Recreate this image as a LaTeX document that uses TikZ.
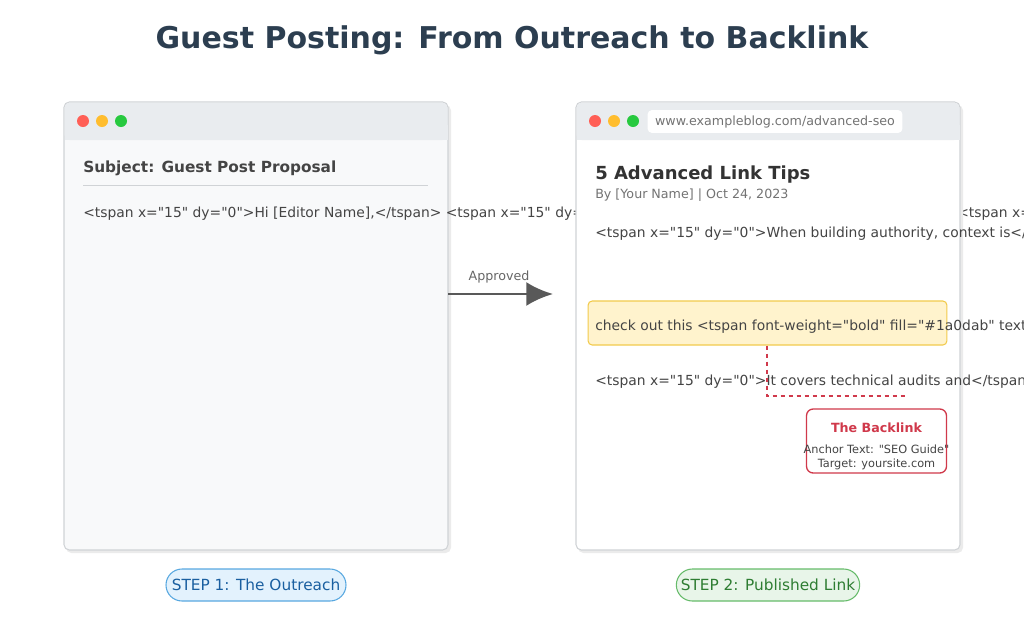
\documentclass[tikz,border=0pt]{standalone}
\usepackage{fontspec}
\setmainfont{DejaVu Sans}[Ligatures=TeXOff]
\usetikzlibrary{calc,positioning,arrows.meta}
\definecolor{titlec}{HTML}{2C3E50}
\definecolor{winfill}{HTML}{F8F9FA}
\definecolor{winbar}{HTML}{E9ECEF}
\definecolor{winline}{HTML}{D0D3D6}
\definecolor{dotred}{HTML}{FF5F56}
\definecolor{dotyel}{HTML}{FFBD2E}
\definecolor{dotgrn}{HTML}{27C93F}
\definecolor{bodyc}{HTML}{444444}
\definecolor{hlfill}{HTML}{FFF3CD}
\definecolor{hlline}{HTML}{F2CB4C}
\definecolor{linkred}{HTML}{D0394B}
\definecolor{bluefill}{HTML}{E3F2FD}
\definecolor{blueline}{HTML}{58A8E0}
\definecolor{bluetext}{HTML}{1A5FA0}
\definecolor{greenfill}{HTML}{E8F5E9}
\definecolor{greenline}{HTML}{66BB6A}
\definecolor{greentext}{HTML}{2E7D32}
\begin{document}
\begin{tikzpicture}[x=0.75pt,y=-0.75pt]
\tikzstyle{window}=[draw=winline,rounded corners=4pt,line width=0.8pt]
\tikzstyle{txt}=[inner sep=0pt,anchor=base west,text=bodyc,font=\fontsize{10.4}{12}\selectfont]
\tikzstyle{badge}=[draw,rounded corners=12pt,line width=0.8pt,minimum width=135pt,minimum height=24pt,font=\fontsize{11.5}{13}\selectfont]

\useasboundingbox (0,0) rectangle (1024,640);

\node (title) [font=\bfseries\fontsize{22.5}{26}\selectfont,text=titlec] at (512,40) {Guest Posting: From Outreach to Backlink};

% left window
\fill [black!8,rounded corners=4pt] (66,105) rectangle (451,553);
\draw [window,fill=winfill] (64,102) rectangle (448,550);
\fill [winbar,rounded corners=4pt] (64.5,102.5) rectangle (447.5,140);
\fill [winbar] (64.5,125) rectangle (447.5,140);
\fill [dotred] (83,121) circle (6);
\fill [dotyel] (102,121) circle (6);
\fill [dotgrn] (121,121) circle (6);
\node (subject) [txt,font=\bfseries\fontsize{11.5}{13}\selectfont] at (83,172) {Subject: Guest Post Proposal};
\draw [winline] (83,185) -- (428,185);
\node (hello) [txt] at (83,217) {<tspan x="15" dy="0">Hi [Editor Name],</tspan> <tspan x="15" dy="20">I really enjoyed your recent article on</tspan> <tspan x="15" dy="20">building.</tspan>};

% arrow
\coordinate (from) at (448,294);
\coordinate (to) at (553,294);
\draw [line width=2.2pt,draw=black!65,-{Latex[length=20pt,width=18pt]}] (from) -- (to);
\node (approved) [text=black!60,font=\fontsize{9.5}{11}\selectfont] at (499,277) {Approved};

% right window
\fill [black!8,rounded corners=4pt] (578,105) rectangle (963,553);
\draw [window,fill=white] (576,102) rectangle (960,550);
\fill [winbar,rounded corners=4pt] (576.5,102.5) rectangle (959.5,140);
\fill [winbar] (576.5,125) rectangle (959.5,140);
\fill [dotred] (595,121) circle (6);
\fill [dotyel] (614,121) circle (6);
\fill [dotgrn] (633,121) circle (6);
\node (url) [fill=white,rounded corners=3pt,minimum width=191pt,minimum height=17pt,inner sep=0pt,text=black!55,font=\fontsize{9.5}{11}\selectfont] at (775,121.5) {www.exampleblog.com/advanced-seo};
\node (post) [txt,text=black!80,font=\bfseries\fontsize{13.5}{16}\selectfont] at (595,179) {5 Advanced Link Tips};
\node (byline) [txt,text=black!55,font=\fontsize{9.5}{11}\selectfont] at (595,198) {By [Your Name] | Oct 24, 2023};
\node (para1) [txt] at (595,237) {<tspan x="15" dy="0">When building authority, context is</tspan>};
\node (hl) [draw=hlline,fill=hlfill,rounded corners=3pt,line width=0.8pt,minimum width=269pt,minimum height=33pt] at (767.5,323) {};
\node (para2) [txt] at (595,330) {check out this <tspan font-weight="bold" fill="\#1a0dab" text-decoration="underline">SEO Guide</tspan>};
\node (para3) [txt] at (595,385) {<tspan x="15" dy="0">It covers technical audits and</tspan>};

% backlink callout
\node (backlink) [draw=linkred,fill=white,rounded corners=5pt,line width=1pt,minimum width=105pt,minimum height=48pt] at (876.5,441) {};
\node (bltitle) [text=linkred,font=\bfseries\fontsize{9.5}{11}\selectfont] at (876.5,428) {The Backlink};
\node (blinfo) [align=center,text=bodyc,font=\fontsize{8.5}{10.5}\selectfont,inner sep=0pt] at (876.5,457) {Anchor Text: "SEO Guide"\\Target: yoursite.com};
\coordinate (bend) at (767,396);
\draw [linkred,dashed,line width=1pt] (hl.south -| bend) -- (bend) -- ($(bend)+(141,0)$);

% steps
\node (step1) [badge,draw=blueline,fill=bluefill,text=bluetext] at (256,585) {STEP 1: The Outreach};
\node (step2) [badge,draw=greenline,fill=greenfill,text=greentext] at (768,585) {STEP 2: Published Link};
\end{tikzpicture}
\end{document}
